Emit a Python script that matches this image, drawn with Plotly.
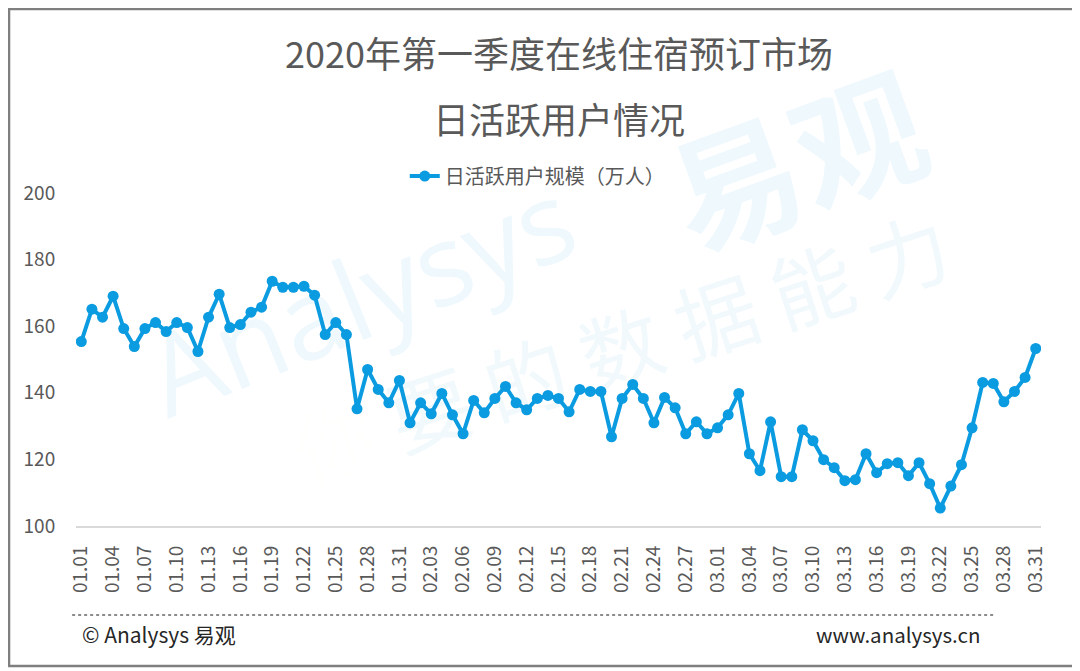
import plotly.graph_objects as go

# 2020-01-01 .. 2020-03-31 (91 days)
dates = ([f"01.{d:02d}" for d in range(1, 32)] +
         [f"02.{d:02d}" for d in range(1, 30)] +
         [f"03.{d:02d}" for d in range(1, 32)])

dau = [155.4, 165.1, 162.7, 169.0, 159.3, 153.9, 159.3, 161.1, 158.4, 161.1,
       159.6, 152.4, 162.7, 169.6, 159.6, 160.5, 164.2, 165.7, 173.5, 171.7,
       171.7, 172.0, 169.3, 157.5, 161.1, 157.5, 135.2, 147.0, 141.0, 137.0,
       143.7,
       131.0, 137.0, 133.7, 139.8, 133.4, 127.7, 137.7, 134.0, 138.3, 141.9,
       137.0, 134.9, 138.3, 139.2, 138.3, 134.3, 141.0, 140.4, 140.4, 126.8,
       138.3, 142.5, 138.3, 131.0, 138.6, 135.5, 127.7, 131.3, 127.7,
       129.5, 133.4, 139.8, 121.7, 116.6, 131.3, 114.8, 114.8, 128.9, 125.6,
       119.9, 117.5, 113.6, 113.9, 121.7, 116.0, 118.7, 119.0, 115.1, 119.0,
       112.7, 105.4, 112.0, 118.4, 129.5, 143.1, 142.8, 137.3, 140.4, 144.6,
       153.3]

tick_labels = dates[::3]

font = "Noto Sans CJK SC"
blue = "#0b9be0"
grey = "#595959"
wm = "rgba(11,155,224,0.07)"

fig = go.Figure()
fig.add_trace(go.Scatter(
    x=dates, y=dau, mode="lines+markers", name="日活跃用户规模（万人）",
    line=dict(color=blue, width=4),
    marker=dict(color=blue, size=11),
))

fig.update_layout(
    width=1080, height=671,
    margin=dict(l=68, r=47, t=185, b=153),
    paper_bgcolor="white", plot_bgcolor="rgba(0,0,0,0)",
    font=dict(family=font, color=grey),
    showlegend=True,
    legend=dict(orientation="h", x=0.478, xanchor="center", y=1.051, yanchor="middle",
                font=dict(size=20, color=grey), bgcolor="rgba(0,0,0,0)"),
    xaxis=dict(type="category", range=[-0.5, 90.5], tickmode="array",
               tickvals=tick_labels, ticktext=tick_labels, tickangle=-90,
               showgrid=False, showline=True, linecolor="#d9d9d9", linewidth=2,
               ticks="outside", ticklen=10, tickcolor="rgba(0,0,0,0)",
               tickfont=dict(size=19, color=grey), zeroline=False),
    yaxis=dict(range=[100, 200], dtick=20, showgrid=False, zeroline=False,
               showline=False, ticks="outside", ticklen=16,
               tickcolor="rgba(0,0,0,0)",
               tickfont=dict(size=19, color=grey)),
)

# watermark (drawn first so it stays underneath)
fig.add_annotation(text="Analysys", xref="paper", yref="paper", x=0.294, y=0.694,
                   xanchor="center", yanchor="middle", showarrow=False, textangle=-22,
                   font=dict(size=112, color=wm, family="Open Sans"))
fig.add_annotation(text="<b>易观</b>", xref="paper", yref="paper", x=0.745, y=1.114,
                   xanchor="center", yanchor="middle", showarrow=False, textangle=-20,
                   font=dict(size=130, color=wm, family=font))
fig.add_annotation(text="<span style='color:rgba(245,150,70,0.08)'>你</span> 要 的 数 据 能 力",
                   xref="paper", yref="paper", x=0.564, y=0.544,
                   xanchor="center", yanchor="middle", showarrow=False, textangle=-18,
                   font=dict(size=82, color="rgba(11,155,224,0.06)", family=font))

# title
fig.add_annotation(text="2020年第一季度在线住宿预订市场", xref="paper", yref="paper",
                   x=0.5, y=1.423, yanchor="middle", showarrow=False,
                   font=dict(size=36, color=grey, family=font))
fig.add_annotation(text="日活跃用户情况", xref="paper", yref="paper",
                   x=0.5, y=1.226, yanchor="middle", showarrow=False,
                   font=dict(size=36, color=grey, family=font))

# outer frame and dotted separator
fig.add_shape(type="rect", xref="paper", yref="paper", x0=-0.0694, x1=1.0373,
              y0=-0.4204, y1=1.5526, line=dict(color="#7f7f7f", width=2.5))
fig.add_shape(type="line", xref="paper", yref="paper", x0=-0.004, x1=0.951,
              y0=-0.267, y1=-0.267, line=dict(color="#8c8c8c", width=2, dash="dot"))

# footer
fig.add_annotation(text="© Analysys 易观", xref="paper", yref="paper", x=0.004, y=-0.324,
                   xanchor="left", yanchor="middle", showarrow=False,
                   font=dict(size=21, color="#262626", family=font))
fig.add_annotation(text="www.analysys.cn", xref="paper", yref="paper", x=0.939, y=-0.324,
                   xanchor="right", yanchor="middle", showarrow=False,
                   font=dict(size=20.5, color="#262626", family=font))

fig.write_html("out.html")
